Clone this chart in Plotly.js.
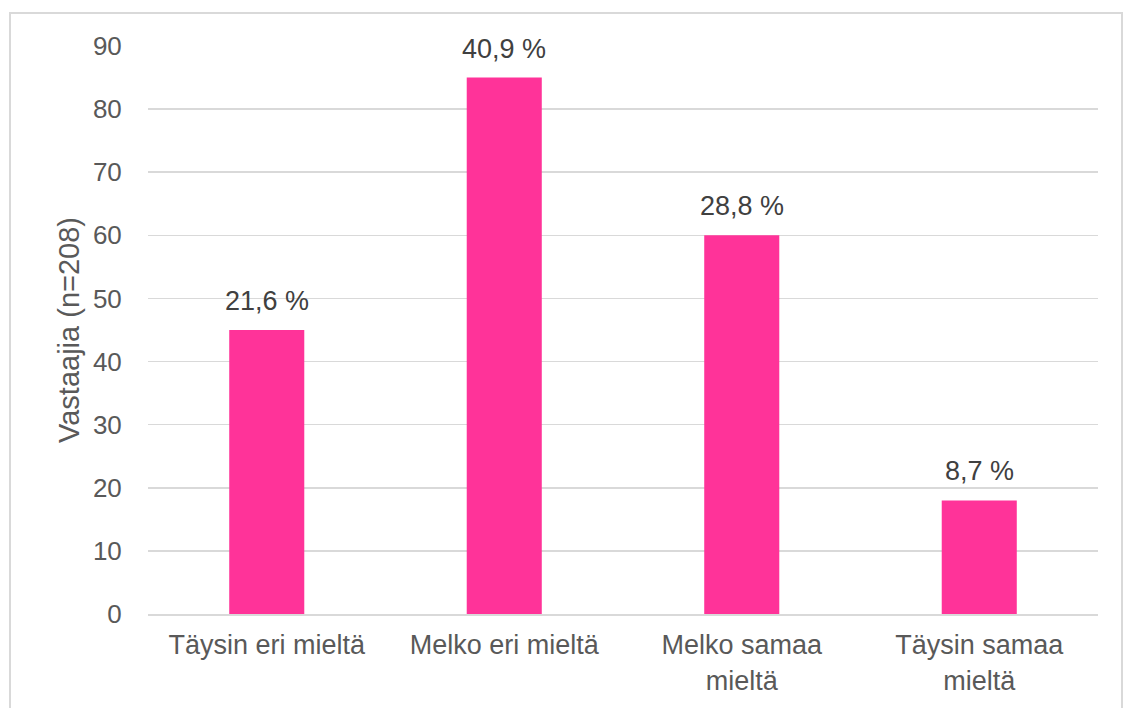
<!DOCTYPE html>
<html>
<head>
<meta charset="utf-8">
<script src="https://cdn.plot.ly/plotly-3.0.1.min.js"></script>
<style>
  html, body { margin: 0; padding: 0; background: #fff; }
  #frame { position: absolute; left: 9px; top: 12px; width: 1114px; height: 710px; border: 2px solid #d9d9d9; box-sizing: border-box; pointer-events: none; }
  #chart { position: absolute; left: 0; top: 0; width: 1132px; height: 708px; }
</style>
</head>
<body>
<div id="chart"></div>
<div id="frame"></div>
<script>
const categories = ["Täysin eri mieltä", "Melko eri mieltä", "Melko samaa<br>mieltä", "Täysin samaa<br>mieltä"];
const counts = [45, 85, 60, 18];
const percentLabels = ["21,6 %", "40,9 %", "28,8 %", "8,7 %"];
const yTicks = [0, 10, 20, 30, 40, 50, 60, 70, 80, 90];

const FONT = 'Liberation Sans, Arial, sans-serif';

const trace = {
  type: 'bar',
  x: categories,
  y: counts,
  marker: { color: '#FF3399' },
  hoverinfo: 'none'
};

const annotations = categories.map((c, i) => ({
  x: c,
  y: counts[i],
  xref: 'x',
  yref: 'y',
  text: percentLabels[i],
  showarrow: false,
  yanchor: 'bottom',
  yshift: 12,
  font: { family: FONT, size: 27, color: '#404040' }
}));

const layout = {
  width: 1132,
  height: 708,
  margin: { l: 148, r: 34, t: 46, b: 94 },
  paper_bgcolor: '#ffffff',
  plot_bgcolor: '#ffffff',
  bargap: 0.684,
  showlegend: false,
  font: { family: FONT, size: 26, color: '#595959' },
  annotations: annotations,
  xaxis: {
    type: 'category',
    showgrid: false,
    showline: true,
    linecolor: '#d9d9d9',
    linewidth: 2,
    ticks: 'outside',
    ticklen: 6,
    tickcolor: 'rgba(0,0,0,0)',
    tickfont: { family: FONT, size: 27, color: '#595959' }
  },
  yaxis: {
    range: [0, 90],
    tickvals: yTicks,
    showgrid: true,
    gridcolor: '#d9d9d9',
    gridwidth: 1.5,
    zeroline: false,
    showline: false,
    ticks: 'outside',
    ticklen: 20,
    tickcolor: 'rgba(0,0,0,0)',
    tickfont: { family: FONT, size: 26, color: '#595959' },
    title: { text: 'Vastaajia (n=208)', font: { family: FONT, size: 29, color: '#595959' }, standoff: 4 }
  }
};

Plotly.newPlot('chart', [trace], layout, { displayModeBar: false, staticPlot: true });
</script>
</body>
</html>
